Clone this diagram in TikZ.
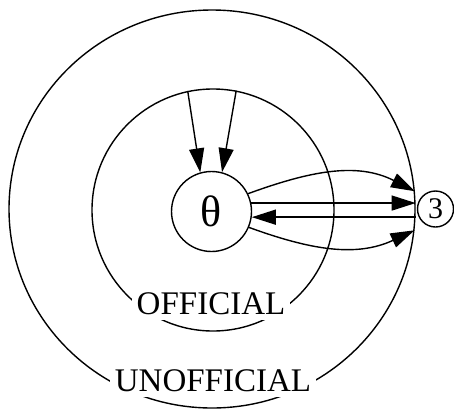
\documentclass[tikz,border=0pt]{standalone}
\usepackage{fontspec}
\setmainfont{Liberation Serif}
\usetikzlibrary{arrows.meta,shapes.geometric}
\begin{document}
\begin{tikzpicture}[x=1pt,y=1pt,line width=1.4pt,
  ring/.style={draw,circle,inner sep=0pt},
  tip/.style={-{Triangle[length=24pt,width=15pt]}},
  lab/.style={fill=white,inner sep=5pt,font=\fontsize{33}{36}\selectfont}]
\useasboundingbox (0,0) rectangle (454,-410);
\node[draw,ellipse,minimum width=406pt,minimum height=398pt,inner sep=0pt] (outer) at (212,-209) {};
\node[ring,minimum size=242pt] (inner) at (213,-210) {};
\node[ring,minimum size=80pt,font=\fontsize{44}{46}\selectfont] (theta) at (211.5,-211.5) {θ};
\node[ring,minimum size=36pt,font=\fontsize{30}{32}\selectfont] (three) at (435.5,-209) {3};
\node[lab] (official) at (211,-304) {OFFICIAL};
\node[lab] (unofficial) at (213,-381) {UNOFFICIAL};
\draw[tip] (inner.102) -- (theta.106);
\draw[tip] (inner.79.5) -- (theta.75);
\draw[tip] (theta.26) to[out=20,in=153] (outer.5);
\draw[tip] (theta.12) -- (outer.1.4 |- theta.12);
\draw[tip] (outer.-2.5 |- theta.-8) -- (theta.-8);
\draw[tip] (theta.-23) to[out=-20,in=-155] (outer.-6.8);
\end{tikzpicture}
\end{document}
